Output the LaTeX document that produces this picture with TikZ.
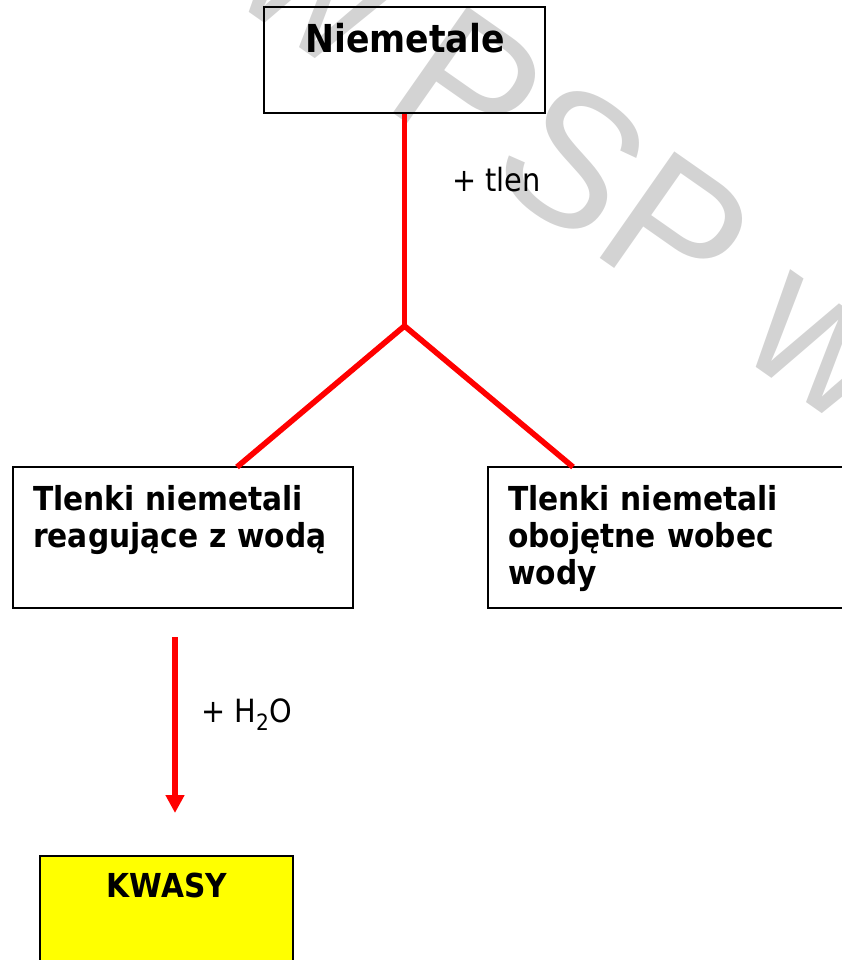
\documentclass[tikz,border=0pt]{standalone}
\usepackage{fontspec}
\setmainfont{DejaVu Sans Condensed}
\newfontfamily\wmfont{Liberation Sans}
\usetikzlibrary{arrows.meta}
\definecolor{linkred}{HTML}{FF0000}
\definecolor{acidyellow}{HTML}{FFFF00}
\definecolor{wmgray}{HTML}{D3D3D3}
\tikzset{
  frame/.style={draw=black, line width=1.5pt, inner sep=0pt},
  boxtext/.style={font=\bfseries\fontsize{33}{37}\selectfont, inner sep=0pt},
  plaintext/.style={font=\fontsize{32}{38}\selectfont, inner sep=0pt},
  branch/.style={draw=linkred, line width=5.6pt},
  reaction/.style={draw=linkred, line width=6pt, -{Triangle[width=18pt,length=18pt]}},
  watermark/.style={text=wmgray, font=\wmfont\fontsize{189}{189}\selectfont, inner sep=0pt}
}
\begin{document}
\begin{tikzpicture}[x=1pt, y=-1pt]
  \useasboundingbox (0,0) rectangle (841,960);

  % background watermark
  \node[watermark, anchor=base west, rotate=-35] (wm) at (226,-4) {w PSP w};

  % boxes
  \node[frame, minimum width=281pt, minimum height=106pt] (niem) at (404.5,60) {};
  \node[frame, minimum width=340pt, minimum height=141pt] (tlr) at (183,537.5) {};
  \node[frame, minimum width=372pt, minimum height=141pt] (tlo) at (674,537.5) {};
  \node[frame, fill=acidyellow, minimum width=253pt, minimum height=150pt] (kw) at (166.5,931) {};

  % box captions
  \node[boxtext, font=\bfseries\fontsize{38.5}{40}\selectfont, anchor=base] (niemtxt) at (405,53) {Niemetale};
  \node[boxtext, anchor=base west, text width=320pt, align=left] (tlrtxt) at (33,510) {Tlenki niemetali\\reagujące z wodą};
  \node[boxtext, anchor=base west, text width=330pt, align=left] (tlotxt) at (508,510) {Tlenki niemetali\\obojętne wobec\\wody};
  \node[boxtext, anchor=base] (kwtxt) at (167,897) {KWASY};

  % branching link
  \coordinate (fork) at (404.5,326);
  \coordinate (forkl) at (237,467);
  \coordinate (forkr) at (573,467);
  \draw[branch] (niem.south) -- (fork);
  \draw[branch] (forkl) -- (fork) -- (forkr);
  \node[plaintext, anchor=base west] (tlen) at (452,191) {+ tlen};

  % reaction with water
  \coordinate (wtop) at (175,637);
  \coordinate (wtip) at (175,813);
  \draw[reaction] (wtop) -- (wtip);
  \node[plaintext, anchor=base west] (water) at (201,722) {+ H\textsubscript{2}O};
\end{tikzpicture}
\end{document}
